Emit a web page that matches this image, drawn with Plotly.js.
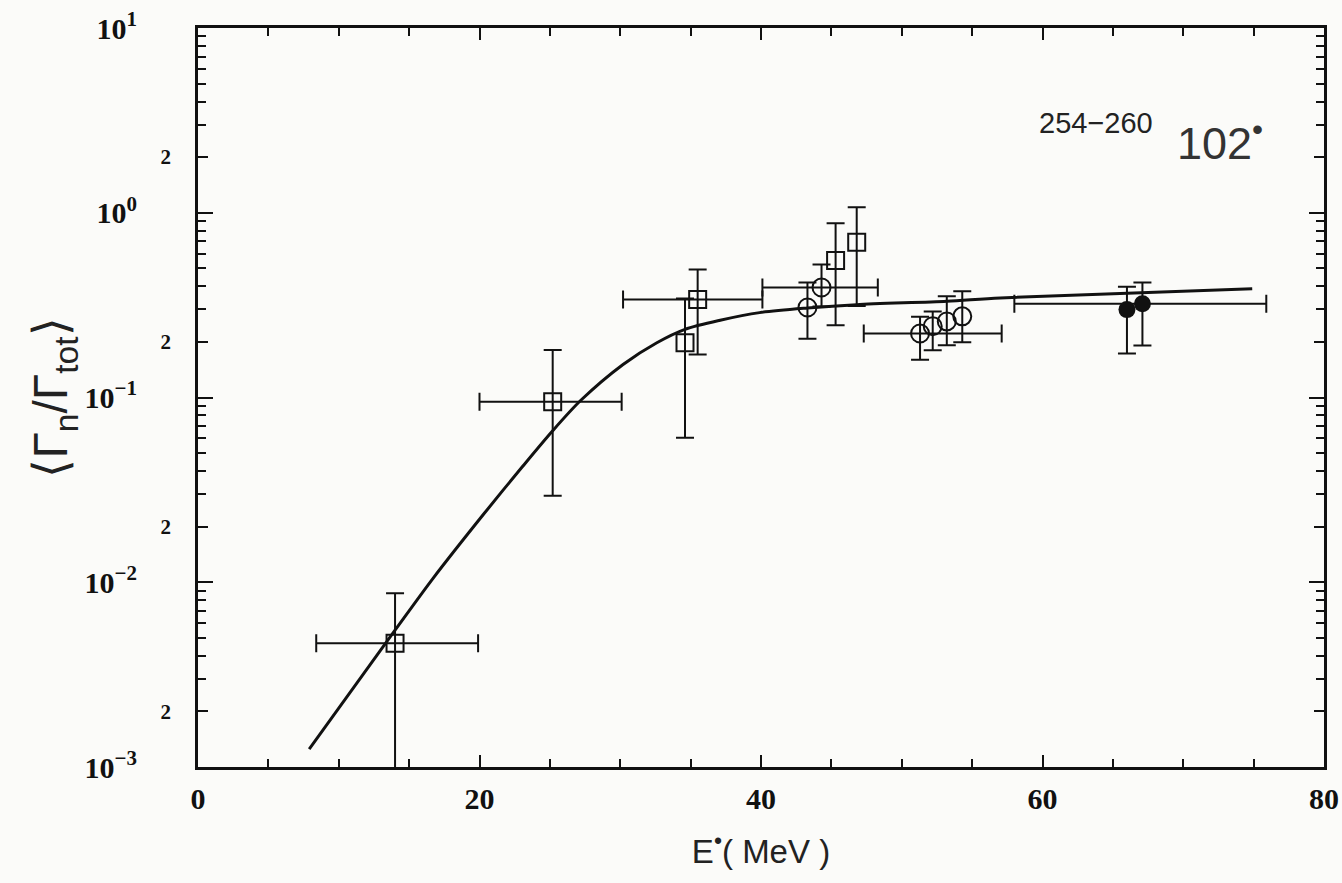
<!DOCTYPE html>
<html>
<head>
<meta charset="utf-8">
<script src="https://cdn.plot.ly/plotly-3.0.1.min.js"></script>
<style>html,body{margin:0;padding:0;background:#fbfbf9;}#chart{width:1342px;height:883px;}</style>
</head>
<body>
<div id="chart"></div>
<script>
// ---- Data ----
// fitted curve
const curveE = [7.9, 14.0, 16.7, 20.3, 23.1, 25.2, 27.2, 30.2, 32.6, 34.6, 37.1, 39.9, 43.3, 46.8, 53.2, 57.0, 74.9];
const curveG = [0.00125, 0.0055, 0.0105, 0.0234, 0.0427, 0.0661, 0.0966, 0.151, 0.198, 0.234, 0.262, 0.288, 0.305, 0.318, 0.332, 0.346, 0.388];

// open squares
const sqE    = [14.0, 25.2, 34.6, 35.5, 45.3, 46.8];
const sqG    = [0.00468, 0.0948, 0.198, 0.339, 0.552, 0.693];
const sqHi   = [0.00873, 0.181, 0.343, 0.493, 0.877, 1.07];
const sqLo   = [0.0005, 0.0294, 0.0606, 0.171, 0.246, 0.313];
const sqELo  = [8.4, 20.0, null, 30.2, null, null];
const sqEHi  = [19.9, 30.1, null, 40.1, null, null];

// open circles
const ocE    = [43.3, 44.3, 51.3, 52.2, 53.2, 54.3];
const ocG    = [0.307, 0.394, 0.222, 0.243, 0.258, 0.275];
const ocHi   = [0.419, 0.525, 0.274, 0.292, 0.353, 0.376];
const ocLo   = [0.208, 0.311, 0.160, 0.180, 0.192, 0.199];
const ocELo  = [null, 40.1, 47.3, null, null, null];
const ocEHi  = [null, 48.3, 57.1, null, null, null];

// filled circles
const fcE    = [66.0, 67.1];
const fcG    = [0.299, 0.322];
const fcHi   = [0.398, 0.419];
const fcLo   = [0.173, 0.191];
const fcELo  = [null, 58.0];
const fcEHi  = [null, 75.9];

// axis ticks
const xTickVals = [0, 20, 40, 60, 80];
const yDecades = [0.001, 0.01, 0.1, 1, 10];
const yDecadeText = ['10<sup>−3</sup>', '10<sup>−2</sup>', '10<sup>−1</sup>', '10<sup>0</sup>', '10<sup>1</sup>'];
const yTwos = [0.002, 0.02, 0.2, 2];
const yTwoText = ['2', '2', '2', '2'];
const yMinor = [];
[0.001, 0.01, 0.1, 1].forEach(d => { for (let k = 3; k <= 9; k++) yMinor.push(+(d * k).toPrecision(3)); });

// ---- helpers ----
const diff = (a, b) => a.map((v, i) => (v === null || b[i] === null) ? NaN : v - b[i]);
function errTrace(x, y, hi, lo, xlo, xhi, marker) {
  return {
    type: 'scatter', mode: 'markers', x: x, y: y,
    marker: marker, showlegend: false, hoverinfo: 'x+y',
    error_y: { type: 'data', symmetric: false, array: diff(hi, y), arrayminus: diff(y, lo),
               color: '#111', thickness: 2, width: 9 },
    error_x: { type: 'data', symmetric: false, array: diff(xhi, x), arrayminus: diff(x, xlo),
               color: '#111', thickness: 2, width: 9 }
  };
}

const traces = [
  { type: 'scatter', mode: 'lines', x: curveE, y: curveG, line: { color: '#111', width: 3, shape: 'spline', smoothing: 0.8 },
    showlegend: false, hoverinfo: 'skip' },
  errTrace(sqE, sqG, sqHi, sqLo, sqELo, sqEHi, { symbol: 'square-open', size: 17, color: '#111', line: { width: 2 } }),
  errTrace(ocE, ocG, ocHi, ocLo, ocELo, ocEHi, { symbol: 'circle-open', size: 18, color: '#111', line: { width: 2 } }),
  errTrace(fcE, fcG, fcHi, fcLo, fcELo, fcEHi, { symbol: 'circle', size: 17, color: '#111', line: { width: 0 } }),
  // carrier so the overlaid "2" tick axis is drawn (draws nothing)
  { type: 'scatter', mode: 'markers', x: [null], y: [null], yaxis: 'y2', showlegend: false, hoverinfo: 'skip' }
];

const tickFont = { family: 'Liberation Serif, Times New Roman, serif', size: 30, color: '#111', weight: 'bold' };

const layout = {
  width: 1342, height: 883,
  margin: { l: 198, r: 18, t: 28, b: 116 },
  paper_bgcolor: '#fbfbf9', plot_bgcolor: '#fbfbf9',
  showlegend: false,
  xaxis: {
    range: [0, 80], tickmode: 'array', tickvals: xTickVals, ticktext: xTickVals.map(String),
    ticks: 'inside', ticklen: 12, tickwidth: 2, tickcolor: '#111',
    minor: { dtick: 5, tick0: 0, ticks: 'inside', ticklen: 8, tickwidth: 2, tickcolor: '#111', showgrid: false },
    showline: true, linewidth: 3, linecolor: '#111', mirror: 'ticks',
    showgrid: false, zeroline: false, tickfont: tickFont, ticklabelstandoff: 3,
    title: { text: 'E<sup>•</sup>( MeV )', font: { family: 'Liberation Sans, Arial, sans-serif', size: 33, color: '#222' }, standoff: 26 }
  },
  yaxis: {
    type: 'log', range: [-3, 1], tickmode: 'array', tickvals: yDecades, ticktext: yDecadeText,
    ticks: 'inside', ticklen: 15, tickwidth: 2, tickcolor: '#111',
    minor: { tickmode: 'array', tickvals: yMinor, ticks: 'inside', ticklen: 8, tickwidth: 2, tickcolor: '#111', showgrid: false },
    showline: true, linewidth: 3, linecolor: '#111', mirror: 'ticks',
    showgrid: false, zeroline: false, tickfont: tickFont, ticklabelstandoff: 52,
    title: { text: '⟨Γ<sub>n</sub>/Γ<sub>tot</sub>⟩', font: { family: 'Liberation Sans, Arial, sans-serif', size: 48, color: '#222' }, standoff: 0 }
  },
  yaxis2: {
    type: 'log', range: [-3, 1], overlaying: 'y', anchor: 'x', side: 'left',
    tickmode: 'array', tickvals: yTwos, ticktext: yTwoText,
    ticks: 'inside', ticklen: 10, tickwidth: 2, tickcolor: '#111', mirror: 'ticks',
    showline: false, showgrid: false, zeroline: false, ticklabelstandoff: 26,
    tickfont: { family: 'Liberation Serif, Times New Roman, serif', size: 21, color: '#111', weight: 'bold' }
  },
  annotations: [
    { xref: 'paper', yref: 'paper', x: 0.745, y: 0.872, xanchor: 'left', yanchor: 'middle', showarrow: false,
      text: '254−260', font: { family: 'Liberation Sans, Arial, sans-serif', size: 29, color: '#222' } },
    { xref: 'paper', yref: 'paper', x: 0.868, y: 0.848, xanchor: 'left', yanchor: 'middle', showarrow: false,
      text: '102<sup>•</sup>', font: { family: 'Liberation Sans, Arial, sans-serif', size: 45, color: '#333' } }
  ]
};

Plotly.newPlot('chart', traces, layout, { displayModeBar: false, staticPlot: true });
</script>
</body>
</html>
